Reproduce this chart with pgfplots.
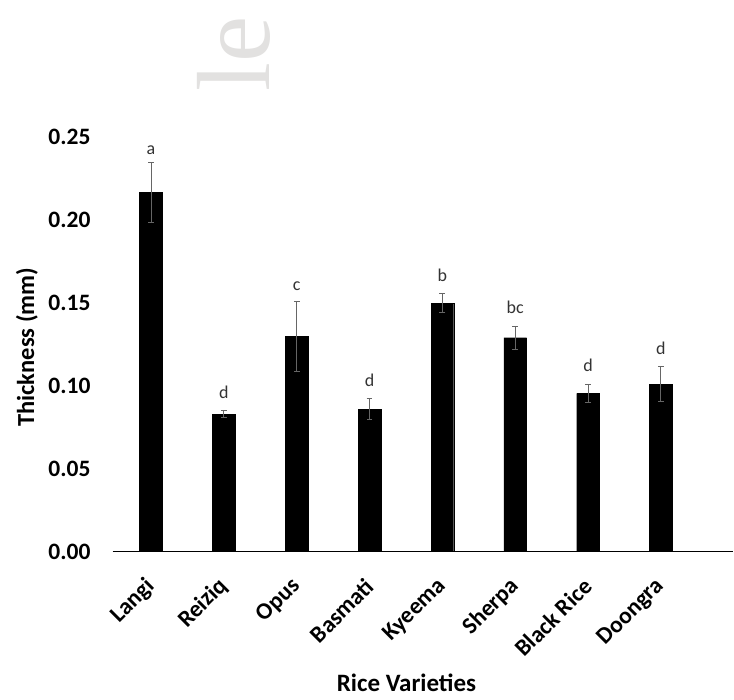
\documentclass[border=0pt]{standalone}
\usepackage{pgfplots}
\pgfplotsset{compat=1.18}
\usepackage{pgfplotstable}
\usepackage{fontspec}
\setmainfont{Carlito}
\newfontfamily\wmfont{Liberation Serif}
\definecolor{errgray}{HTML}{666666}
\definecolor{lettergray}{HTML}{333333}
\definecolor{wmgray}{HTML}{E2E1E0}

\pgfplotstableread{
x y err
0 0.2166 0.0181
1 0.0829 0.0019
2 0.1297 0.0209
3 0.0858 0.0062
4 0.1496 0.0057
5 0.1289 0.0070
6 0.0954 0.0056
7 0.1010 0.0103
}\thickdata

\pgfplotstableread{
x y lab
0 0.2394 a
1 0.0924 d
2 0.1572 c
3 0.0994 d
4 0.1627 b
5 0.1436 bc
6 0.1084 d
7 0.1185 d
}\letterdata

\begin{document}
\begin{tikzpicture}
\path (-112.7pt,-148.3pt) rectangle (621.3pt,551.7pt);
\node[font=\wmfont\fontsize{104}{104}\selectfont, text=wmgray, rotate=90] at (121.3pt,497.7pt) {le};
\begin{axis}[
  at={(0pt,0pt)}, anchor=south west,
  scale only axis, width=620.3pt, height=415pt,
  xmin=-0.526, xmax=7.99, ymin=0, ymax=0.25,
  axis x line*=bottom, axis y line*=left,
  y axis line style={draw=none},
  x axis line style={line width=1.2pt, -},
  xtick={0,1,2,3,4,5,6,7},
  xticklabels={Langi,Reiziq,Opus,Basmati,Kyeema,Sherpa,Black Rice,Doongra},
  ytick={0,0.05,0.1,0.15,0.2,0.25},
  major tick length=0pt,
  tick label style={font=\fontsize{23.5}{27}\selectfont\bfseries},
  xticklabel style={rotate=45, anchor=east, inner sep=0pt},
  xticklabel shift=31pt,
  yticklabel style={anchor=east, inner sep=0pt, /pgf/number format/.cd, fixed, fixed zerofill, precision=2, assume math mode=true},
  yticklabel shift=22pt,
  xlabel={Rice Varieties}, ylabel={Thickness (mm)},
  every axis x label/.style={at={(axis description cs:0.4737,0)}, anchor=base, yshift=-140pt, font=\fontsize{25}{29}\selectfont\bfseries},
  every axis y label/.style={at={(axis description cs:-0.1382,0.493)}, anchor=center, rotate=90, font=\fontsize{24.5}{29}\selectfont\bfseries},
  clip=false,
]
\addplot[ybar, bar width=22.7pt, fill=black, draw=black,
  error bars/.cd, y dir=both, y explicit,
  error bar style={errgray, line width=1pt},
  error mark=-,
  error mark options={errgray, rotate=90, mark size=2.9pt, line width=1pt}]
  table[x=x, y=y, y error=err]{\thickdata};
\addplot[draw=none, mark=none, nodes near coords, point meta=explicit symbolic,
  nodes near coords style={anchor=base, inner sep=0pt, font=\fontsize{18}{21}\selectfont, text=lettergray}]
  table[x=x, y=y, meta=lab]{\letterdata};
\end{axis}
\end{tikzpicture}
\end{document}
